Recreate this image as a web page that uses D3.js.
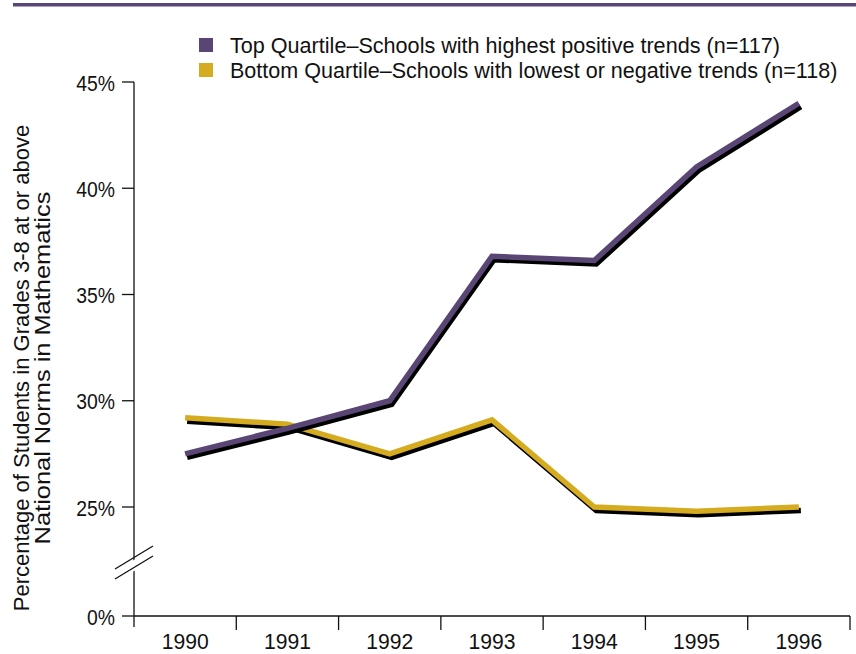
<!DOCTYPE html>
<html>
<head>
<meta charset="utf-8">
<script src="https://cdn.jsdelivr.net/npm/d3@7"></script>
<style>
  body { margin: 0; background: #fff; }
  svg text { font-family: "Liberation Sans", Arial, sans-serif; fill: #111; }
</style>
</head>
<body>
<svg id="chart" width="856" height="654"></svg>
<script>
const years = ["1990", "1991", "1992", "1993", "1994", "1995", "1996"];
const topQuartile = [27.5, 28.7, 30.0, 36.8, 36.6, 41.0, 44.0];
const bottomQuartile = [29.2, 28.9, 27.5, 29.1, 25.0, 24.8, 25.0];
const yTicks = [25, 30, 35, 40, 45];
const legendLabels = [
  "Top Quartile\u2013Schools with highest positive trends (n=117)",
  "Bottom Quartile\u2013Schools with lowest or negative trends (n=118)"
];
const titleLines = [
  "Percentage of Students in Grades 3-8 at or above",
  "National Norms in Mathematics"
];
const purple = "#5a4675";
const gold = "#d5ac20";

const svg = d3.select("#chart");

const x = d3.scaleBand().domain(years).range([134, 850]);
const y = d3.scaleLinear().domain([25, 45]).range([507, 82]);
const zeroY = 616;

// squeeze text horizontally so it looks like a condensed face
// (target: width in px, or a factor if < 2)
function squeeze(sel, target) {
  sel.each(function (d, i) {
    const t = d3.select(this);
    const w = this.getComputedTextLength();
    const goal = typeof target === "function" ? target(d, i) : target;
    const k = goal < 2 ? goal : goal / w;
    const x0 = +t.attr("x"), y0 = +t.attr("y");
    t.attr("x", 0).attr("y", 0)
      .attr("transform", `translate(${x0},${y0}) scale(${k},1)`);
  });
}

// top rule
svg.append("rect").attr("x", 13).attr("y", 3).attr("width", 843).attr("height", 3.5).attr("fill", purple);

// legend
const legendWidths = [550, 608];
svg.selectAll(".swatch").data([purple, gold]).join("rect")
  .attr("x", 199).attr("y", (d, i) => 38 + i * 25)
  .attr("width", 14).attr("height", 14).attr("fill", d => d);
svg.selectAll(".leg").data(legendLabels).join("text")
  .attr("x", 230).attr("y", (d, i) => 53 + i * 25)
  .attr("font-size", 22.5).text(d => d)
  .call(squeeze, (d, i) => legendWidths[i]);

// y axis
const axis = svg.append("g").attr("stroke", "#111").attr("stroke-width", 1.3);
axis.append("line").attr("x1", 134).attr("x2", 134).attr("y1", y(45)).attr("y2", 627);
yTicks.forEach(t => {
  axis.append("line").attr("x1", 122).attr("x2", 134).attr("y1", y(t)).attr("y2", y(t));
});
axis.append("line").attr("x1", 122).attr("x2", 134).attr("y1", zeroY).attr("y2", zeroY);

svg.selectAll(".ylab").data(yTicks).join("text")
  .attr("x", 115).attr("y", d => y(d) + 8.5)
  .attr("text-anchor", "end").attr("font-size", 22)
  .text(d => d + "%")
  .call(squeeze, 0.88);
svg.append("text").attr("x", 115).attr("y", zeroY + 8.5)
  .attr("text-anchor", "end").attr("font-size", 22).text("0%")
  .call(squeeze, 0.88);

// axis break
svg.append("polygon").attr("points", "112,573 156,547 156,558 112,584").attr("fill", "#fff");
const brk = svg.append("g").attr("stroke", "#111").attr("stroke-width", 1.3);
brk.append("line").attr("x1", 115).attr("y1", 569).attr("x2", 153).attr("y2", 546);
brk.append("line").attr("x1", 115).attr("y1", 579).attr("x2", 153).attr("y2", 556);

// x axis
axis.append("line").attr("x1", 134).attr("x2", 850).attr("y1", zeroY).attr("y2", zeroY);
years.forEach(yr => {
  const e = x(yr) + x.bandwidth();
  axis.append("line").attr("x1", e).attr("x2", e).attr("y1", zeroY).attr("y2", 630);
});
svg.selectAll(".xlab").data(years).join("text")
  .attr("x", d => x(d) + x.bandwidth() / 2).attr("y", 649)
  .attr("text-anchor", "middle").attr("font-size", 22)
  .text(d => d)
  .call(squeeze, 47);

// y title
const titleWidths = [487, 353];
svg.append("g").attr("transform", "translate(0,368) rotate(-90)")
  .selectAll("text").data(titleLines).join("text")
  .attr("x", 0).attr("y", (d, i) => 29 + i * 21)
  .attr("text-anchor", "middle").attr("font-size", 22).text(d => d)
  .call(squeeze, (d, i) => titleWidths[i]);

// lines with drop shadow
const line = d3.line()
  .x((d, i) => x(years[i]) + x.bandwidth() / 2)
  .y(d => y(d));

[[bottomQuartile, gold], [topQuartile, purple]].forEach(([vals, c]) => {
  svg.append("path").datum(vals).attr("d", line)
    .attr("transform", "translate(2,3.5)")
    .attr("fill", "none").attr("stroke", "#000").attr("stroke-width", 5.5);
  svg.append("path").datum(vals).attr("d", line)
    .attr("fill", "none").attr("stroke", c).attr("stroke-width", 5.5);
});
</script>
</body>
</html>
